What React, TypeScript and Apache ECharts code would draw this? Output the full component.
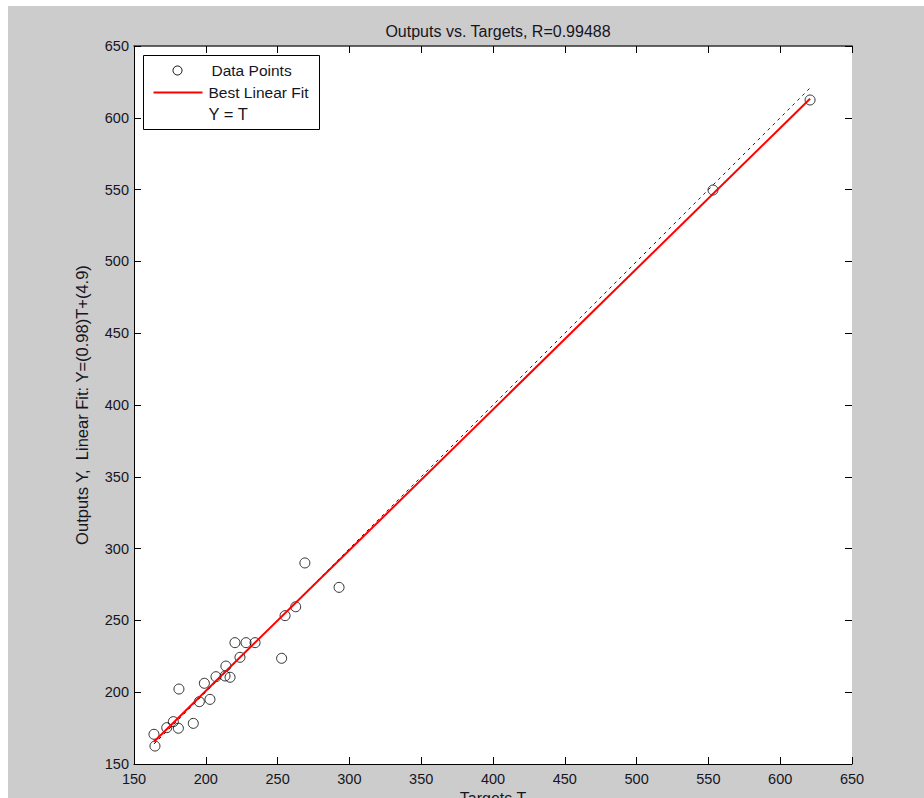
import React, { useEffect, useRef } from "react";
import * as echarts from "echarts";

const titleText = "Outputs vs. Targets, R=0.99488";
const xName = "Targets T";
const yName = "Outputs Y,  Linear Fit: Y=(0.98)T+(4.9)";
const axisMin = 150;
const axisMax = 650;
const axisStep = 50;
const fitSlope = 0.98;
const fitIntercept = 4.9;

const targets = [
  164.6, 163.9, 172.8, 177.4, 180.9, 191.3, 195.5, 202.9, 181.3, 199.0, 207.1, 213.4, 216.9,
  214.0, 223.8, 220.3, 228.0, 234.3, 252.8, 255.2, 262.6, 269.0, 292.8, 553.2, 620.8,
];
const outputs = [
  162.5, 170.7, 175.3, 179.5, 174.9, 178.3, 193.4, 195.0, 202.2, 206.2, 210.8, 211.3, 210.4,
  218.2, 224.3, 234.5, 234.5, 234.5, 223.6, 253.3, 259.5, 290.0, 273.0, 549.7, 612.4,
];
const legendLabels = ["Data Points", "Best Linear Fit", "Y = T"];

const FONT = "'Liberation Sans', Arial, sans-serif";
const TXT = "#15151f";

export default function App() {
  const ref = useRef<HTMLDivElement>(null);
  useEffect(() => {
    if (!ref.current) return;
    const chart = echarts.init(ref.current, undefined, { renderer: "svg" });
    const pts = targets.map((t, i) => [t, outputs[i]]);
    const tMin = Math.min(...targets);
    const tMax = Math.max(...targets);
    const fitLine = [
      [tMin, fitSlope * tMin + fitIntercept],
      [tMax, fitSlope * tMax + fitIntercept],
    ];
    const idLine = [
      [tMin, tMin],
      [tMax, tMax],
    ];
    const gridL = 126, gridT = 40, gridW = 718, gridH = 718;
    const baseAxis = {
      type: "value",
      min: axisMin,
      max: axisMax,
      interval: axisStep,
      splitLine: { show: false },
    };
    chart.setOption({
      animation: false,
      backgroundColor: "#cccccc",
      title: {
        text: titleText,
        left: gridL + gridW / 2,
        textAlign: "center",
        top: 12,
        textStyle: { fontFamily: FONT, fontSize: 16, fontWeight: "normal", color: TXT },
      },
      grid: {
        left: gridL,
        top: gridT,
        width: gridW,
        height: gridH,
        backgroundColor: "#ffffff",
        show: true,
        borderWidth: 0,
        containLabel: false,
        outerBoundsMode: "none",
      },
      xAxis: [
        {
          ...baseAxis,
          position: "bottom",
          name: xName,
          nameLocation: "middle",
          nameGap: 26,
          nameTextStyle: { fontFamily: FONT, fontSize: 16, color: TXT, verticalAlign: "top" },
          axisLine: { show: true, onZero: false, lineStyle: { color: "#000", width: 1 } },
          axisTick: { show: true, inside: true, length: 7, lineStyle: { color: "#000" } },
          axisLabel: { fontFamily: FONT, fontSize: 14.5, color: TXT, margin: 7 },
        },
        {
          ...baseAxis,
          position: "top",
          axisLine: { show: true, onZero: false, lineStyle: { color: "#333", width: 1.5 } },
          axisTick: { show: true, inside: true, length: 7, lineStyle: { color: "#000" } },
          axisLabel: { show: false },
        },
      ],
      yAxis: [
        {
          ...baseAxis,
          position: "left",
          name: yName,
          nameLocation: "middle",
          nameGap: 44,
          nameTextStyle: { fontFamily: FONT, fontSize: 16.5, color: TXT },
          axisLine: { show: true, onZero: false, lineStyle: { color: "#000", width: 1 } },
          axisTick: { show: true, inside: true, length: 7, lineStyle: { color: "#000" } },
          axisLabel: { fontFamily: FONT, fontSize: 14.5, color: TXT, margin: 5 },
        },
        {
          ...baseAxis,
          position: "right",
          axisLine: { show: false },
          axisTick: { show: true, inside: true, length: 7, lineStyle: { color: "#000" } },
          axisLabel: { show: false },
        },
      ],
      series: [
        {
          name: "Y = T",
          type: "line",
          data: idLine,
          symbol: "none",
          z: 2,
          lineStyle: { color: "#222", width: 1, type: [3, 4] },
        },
        {
          name: "Data Points",
          type: "scatter",
          data: pts,
          symbol: "circle",
          symbolSize: 10,
          z: 3,
          itemStyle: { color: "rgba(0,0,0,0)", borderColor: "#000", borderWidth: 1 },
        },
        {
          name: "Best Linear Fit",
          type: "line",
          data: fitLine,
          symbol: "none",
          z: 4,
          lineStyle: { color: "#ff0000", width: 2 },
        },
      ],
      graphic: [
        {
          type: "group",
          left: 135,
          top: 49,
          children: [
            {
              type: "rect",
              shape: { x: 0, y: 0, width: 176, height: 74 },
              style: { fill: "#ffffff", stroke: "#000", lineWidth: 1 },
            },
            {
              type: "circle",
              shape: { cx: 34, cy: 15, r: 4.5 },
              style: { fill: "none", stroke: "#000", lineWidth: 1 },
            },
            {
              type: "text",
              x: 68,
              y: 15,
              style: { text: legendLabels[0], fontFamily: FONT, fontSize: 15.5, fill: TXT, verticalAlign: "middle" },
            },
            {
              type: "line",
              shape: { x1: 10, y1: 37, x2: 59, y2: 37 },
              style: { stroke: "#ff0000", lineWidth: 2 },
            },
            {
              type: "text",
              x: 65,
              y: 37,
              style: { text: legendLabels[1], fontFamily: FONT, fontSize: 15.5, fill: TXT, verticalAlign: "middle" },
            },
            {
              type: "text",
              x: 65,
              y: 58,
              style: { text: legendLabels[2], fontFamily: FONT, fontSize: 16.5, fill: TXT, verticalAlign: "middle" },
            },
          ],
        },
      ],
    });
    return () => chart.dispose();
  }, []);
  return (
    <div
      ref={ref}
      style={{ position: "absolute", left: 8, top: 6, width: 916, height: 792 }}
    />
  );
}
